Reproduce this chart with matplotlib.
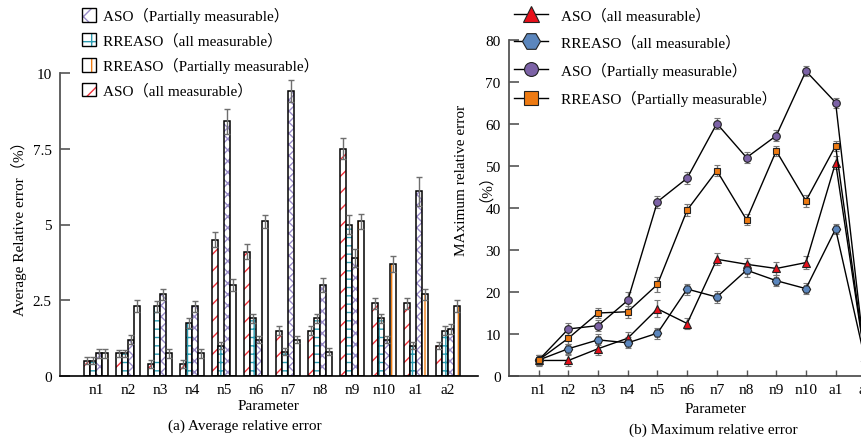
import numpy as np
import matplotlib
matplotlib.use("Agg")
import matplotlib.pyplot as plt
from matplotlib.patches import Patch
from matplotlib.lines import Line2D
from matplotlib.legend_handler import HandlerTuple

plt.rcParams["font.family"] = ["Liberation Serif", "Noto Sans CJK SC", "DejaVu Serif"]
plt.rcParams["hatch.linewidth"] = 1.0

params = ["n1", "n2", "n3", "n4", "n5", "n6", "n7", "n8", "n9", "n10", "a1", "a2"]

# (a) average relative error (%)
avg_aso_all = [0.5, 0.75, 0.4, 0.4, 4.5, 4.1, 1.5, 1.5, 7.5, 2.4, 2.4, 1.0]
avg_rreaso_all = [0.5, 0.75, 2.3, 1.75, 1.0, 1.9, 0.8, 1.9, 5.0, 1.9, 1.0, 1.5]
avg_aso_part = [0.75, 1.2, 2.7, 2.3, 8.4, 1.2, 9.4, 3.0, 3.9, 1.2, 6.1, 1.55]
avg_rreaso_part = [0.75, 2.3, 0.75, 0.75, 3.0, 5.1, 1.2, 0.8, 5.1, 3.7, 2.7, 2.3]

avg_aso_all_err = [0.12, 0.12, 0.12, 0.12, 0.25, 0.25, 0.15, 0.15, 0.35, 0.18, 0.18, 0.12]
avg_rreaso_all_err = [0.12, 0.12, 0.18, 0.18, 0.12, 0.15, 0.12, 0.15, 0.33, 0.15, 0.12, 0.15]
avg_aso_part_err = [0.15, 0.15, 0.18, 0.18, 0.42, 0.12, 0.37, 0.22, 0.3, 0.12, 0.48, 0.15]
avg_rreaso_part_err = [0.15, 0.2, 0.15, 0.15, 0.2, 0.2, 0.12, 0.12, 0.24, 0.26, 0.18, 0.2]

# (b) maximum relative error (%)
max_aso_all = [3.7, 3.7, 6.5, 9.0, 16.0, 12.5, 27.8, 26.6, 25.6, 27.0, 50.8, 3.6]
max_rreaso_all = [3.8, 6.5, 8.6, 7.9, 10.2, 20.7, 18.8, 25.2, 22.7, 20.8, 35.0, 3.6]
max_aso_part = [3.8, 11.2, 12.0, 18.0, 41.5, 47.1, 60.1, 52.0, 57.2, 72.6, 65.1, 3.6]
max_rreaso_part = [3.8, 9.0, 15.0, 15.3, 21.8, 39.5, 48.9, 37.2, 53.6, 41.7, 54.8, 3.6]

max_aso_all_err = [1.2, 1.3, 1.4, 1.5, 2.0, 1.3, 1.4, 1.5, 1.5, 1.6, 1.5, 1.0]
max_rreaso_all_err = [1.2, 1.2, 1.3, 1.3, 1.3, 1.3, 1.4, 1.6, 1.3, 1.3, 1.3, 1.0]
max_aso_part_err = [1.2, 1.4, 1.3, 2.0, 1.4, 1.5, 1.4, 1.3, 1.3, 1.2, 1.2, 1.0]
max_rreaso_part_err = [1.2, 1.4, 1.3, 1.4, 1.8, 1.4, 1.3, 1.3, 1.2, 1.4, 1.2, 1.0]

labels = ["ASO（all measurable）", "RREASO（all measurable）",
          "ASO（Partially measurable）", "RREASO（Partially measurable）"]
hatch_colors = ["#f0303a", "#2a9bb0", "#9a8cc8", "#f07d14"]
hatches = ["//", "++", "xxx", "|"]

fig = plt.figure(figsize=(8.62, 4.39), dpi=100)
W, H = 862, 439

# ---------------- (a) grouped bars ----------------
ax1 = fig.add_axes([60 / W, 1 - 377 / H, 418 / W, 303 / H])
x = np.arange(len(params))
w = 0.1875
series = [(avg_aso_all, avg_aso_all_err), (avg_rreaso_all, avg_rreaso_all_err),
          (avg_aso_part, avg_aso_part_err), (avg_rreaso_part, avg_rreaso_part_err)]
for k, (vals, errs) in enumerate(series):
    xs = x + (k - 1.5) * w
    ax1.bar(xs, vals, w, color="white", edgecolor=hatch_colors[k], hatch=hatches[k], linewidth=0)
    ax1.bar(xs, vals, w, color="none", edgecolor="black", linewidth=1.1)
    ax1.errorbar(xs, vals, yerr=errs, fmt="none", ecolor="#6e6e6e", elinewidth=1, capsize=2.5)

ax1.set_xlim(-1.125, 11.94)
ax1.set_ylim(0, 10)
ax1.set_yticks([0, 2.5, 5, 7.5, 10])
ax1.set_yticklabels(["0", "2.5", "5", "7.5", "10"])
ax1.set_xticks(x)
ax1.set_xticklabels(params)
ax1.tick_params(axis="y", direction="in", length=7, width=1.2, color="#555555", labelsize=11, pad=6)
ax1.tick_params(axis="x", length=0, labelsize=11, pad=5)
ax1.spines[["top", "right"]].set_visible(False)
ax1.spines["left"].set_color("#555555")
ax1.spines["left"].set_linewidth(1.3)
ax1.spines["bottom"].set_linewidth(1.2)
ax1.set_ylabel("Average Relative error（%）", fontsize=11, labelpad=4)

legend_order = [2, 1, 3, 0]
legend_hatches = ["x", "+", "|", "//"]
handles = [(Patch(facecolor="white", edgecolor=hatch_colors[k], hatch=h, linewidth=0),
            Patch(facecolor="none", edgecolor="black", linewidth=1))
           for k, h in zip(legend_order, legend_hatches)]
fig.legend(handles, [labels[k] for k in legend_order], loc="upper left",
           bbox_to_anchor=(82 / W, 1 - 8 / H), frameon=False, fontsize=11,
           handler_map={tuple: HandlerTuple(ndivide=1, pad=0)},
           handlelength=0.9, handleheight=1.0, handletextpad=0.5,
           labelspacing=0.62, borderpad=0, borderaxespad=0)

fig.text(268 / W, 1 - 407 / H, "Parameter", ha="center", va="center", fontsize=11)
fig.text(245 / W, 1 - 426 / H, "(a) Average relative error", ha="center", va="center", fontsize=11)

# ---------------- (b) lines with markers ----------------
ax2 = fig.add_axes([509 / W, 1 - 377 / H, 386 / W, 336 / H])
line_series = [
    (max_aso_all, max_aso_all_err, "^", "#e8101a", 5.5, 11.5),
    (max_rreaso_all, max_rreaso_all_err, "H", "#5b86bd", 6, 13),
    (max_aso_part, max_aso_part_err, "o", "#7c62a6", 5.5, 10),
    (max_rreaso_part, max_rreaso_part_err, "s", "#ee7a12", 5, 10),
]
for vals, errs, m, c, ms, _ in line_series:
    ax2.errorbar(x, vals, yerr=errs, color="black", lw=1, marker=m, ms=ms, mfc=c, mec="#222222",
                 mew=0.8, ecolor="#777777", elinewidth=1, capsize=2.5)

ax2.set_xlim(-1, 12)
ax2.set_ylim(0, 80)
ax2.set_yticks(np.arange(0, 81, 10))
ax2.set_xticks(x)
ax2.set_xticklabels(params)
ax2.tick_params(axis="y", direction="in", length=7, width=1.2, color="#555555", labelsize=11, pad=6)
ax2.tick_params(axis="x", direction="in", length=4, width=1, color="#555555", labelsize=11, pad=5)
ax2.spines[["top", "right"]].set_visible(False)
ax2.spines["left"].set_color("#555555")
ax2.spines["left"].set_linewidth(1.3)
ax2.spines["bottom"].set_color("#444444")
ax2.spines["bottom"].set_linewidth(1.2)

fig.text(470 / W, 1 - 180 / H, "MAximum relative error\n（%）", rotation=90, ha="center",
         va="center", fontsize=11, multialignment="center")

line_handles = [Line2D([], [], color="black", lw=1, marker=m, ms=lms, mfc=c, mec="#222222", mew=0.8)
                for _, _, m, c, _, lms in line_series]
fig.legend(line_handles, labels, loc="upper left", bbox_to_anchor=(514 / W, 1 - 9 / H),
           frameon=False, fontsize=11, handlelength=2.2, handletextpad=0.9,
           labelspacing=0.8, borderpad=0, borderaxespad=0)

fig.text(715 / W, 1 - 410 / H, "Parameter", ha="center", va="center", fontsize=11)
fig.text(713 / W, 1 - 430 / H, "(b) Maximum relative error", ha="center", va="center", fontsize=11)

fig.savefig("out.png", dpi=100)
